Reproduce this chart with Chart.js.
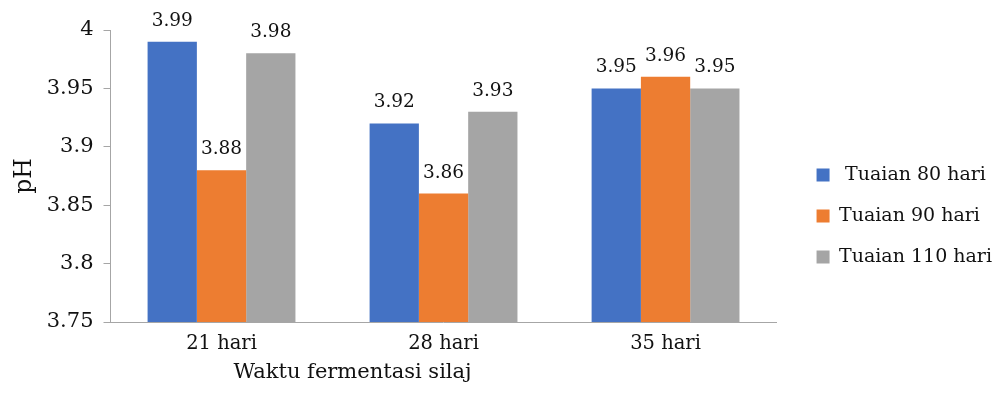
<!DOCTYPE html>
<html>
<head>
<meta charset="utf-8">
<script src="https://cdn.jsdelivr.net/npm/chart.js@4"></script>
<style>
html,body{margin:0;padding:0;background:#fff;}
#wrap{width:999px;height:393px;position:relative;}
</style>
</head>
<body>
<div id="wrap"><canvas id="c" width="999" height="393"></canvas></div>
<script>
const categories = ['21 hari', '28 hari', '35 hari'];
const seriesNames = [' Tuaian 80 hari', 'Tuaian 90 hari', 'Tuaian 110 hari'];
const tuaian80 = [3.99, 3.92, 3.95];
const tuaian90 = [3.88, 3.86, 3.96];
const tuaian110 = [3.98, 3.93, 3.95];
const yTickLabels = ['3.75', '3.8', '3.85', '3.9', '3.95', '4'];
const yAxisTitle = 'pH';
const xAxisTitle = 'Waktu fermentasi silaj';

const FONT = "'DejaVu Serif', serif";
const AXIS = '#A6A6A6';
const TEXT = '#111111';

const valueLabels = {
  id: 'valueLabels',
  afterDatasetsDraw(chart) {
    const ctx = chart.ctx;
    ctx.save();
    ctx.font = "18.5px " + FONT;
    ctx.fillStyle = TEXT;
    ctx.textAlign = 'center';
    ctx.textBaseline = 'alphabetic';
    chart.data.datasets.forEach((ds, i) => {
      const meta = chart.getDatasetMeta(i);
      meta.data.forEach((bar, j) => {
        ctx.fillText(String(ds.data[j]), bar.x, bar.y - 16);
      });
    });
    ctx.restore();
  }
};

const xTitlePlugin = {
  id: 'xTitlePlugin',
  afterDraw(chart) {
    const s = chart.scales.x;
    const ctx = chart.ctx;
    ctx.save();
    ctx.font = "21px " + FONT;
    ctx.fillStyle = TEXT;
    ctx.textAlign = 'center';
    ctx.textBaseline = 'alphabetic';
    ctx.fillText(xAxisTitle, (s.left + s.right) / 2 - 91, s.top + 56);
    ctx.restore();
  }
};

new Chart(document.getElementById('c'), {
  type: 'bar',
  data: {
    labels: categories,
    datasets: [
      { label: seriesNames[0], data: tuaian80, backgroundColor: '#4472C4' },
      { label: seriesNames[1], data: tuaian90, backgroundColor: '#ED7D31' },
      { label: seriesNames[2], data: tuaian110, backgroundColor: '#A5A5A5' }
    ]
  },
  options: {
    responsive: false,
    animation: false,
    devicePixelRatio: 1,
    layout: { padding: { top: 30, left: 0, right: -3, bottom: 0 } },
    datasets: { bar: { barPercentage: 1, categoryPercentage: 0.666 } },
    plugins: {
      tooltip: { enabled: false },
      legend: {
        position: 'right',
        align: 'center',
        maxWidth: 400,
        title: { display: true, text: ' ', font: { size: 1 }, padding: 4 },
        labels: {
          boxWidth: 13,
          boxHeight: 13,
          padding: 22,
          color: TEXT,
          font: { family: FONT, size: 19 }
        }
      }
    },
    scales: {
      x: {
        grid: { display: false, drawTicks: false },
        border: { display: true, color: AXIS, width: 1 },
        ticks: { color: TEXT, font: { family: FONT, size: 19.5 }, padding: 10 },
        afterFit(s) { s.height = 71; }
      },
      y: {
        min: 3.75,
        max: 4,
        grid: { display: true, drawOnChartArea: false, drawTicks: true, tickLength: 7, color: AXIS },
        border: { display: true, color: AXIS, width: 1 },
        ticks: {
          stepSize: 0.05,
          color: TEXT,
          padding: 10,
          font: { family: FONT, size: 21 },
          callback: (v) => {
            const k = Math.round((v - 3.75) / 0.05);
            return yTickLabels[k];
          }
        },
        title: {
          display: true,
          text: yAxisTitle,
          color: TEXT,
          font: { family: FONT, size: 23.5, lineHeight: 1 },
          padding: { top: 13.25, bottom: 0 }
        }
      },
      yR: {
        type: 'linear',
        position: 'right',
        display: true,
        grid: { display: false, drawTicks: false },
        border: { display: false },
        ticks: { display: false },
        afterFit(s) { s.width = 18; }
      }
    }
  },
  plugins: [valueLabels, xTitlePlugin]
});
</script>
</body>
</html>
